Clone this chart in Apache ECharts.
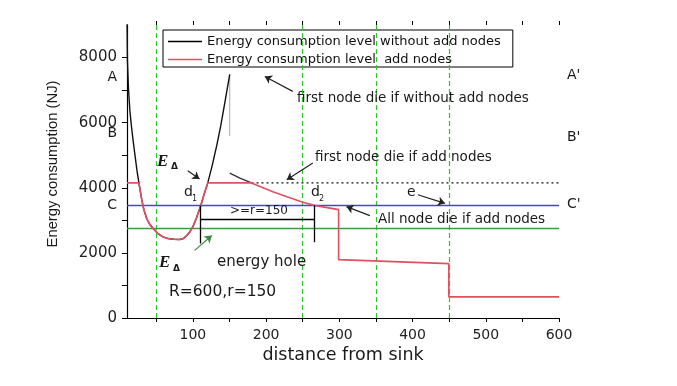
<!DOCTYPE html>
<html><head><meta charset="utf-8">
<script src="https://cdn.jsdelivr.net/npm/echarts@6/dist/echarts.min.js"></script>
<style>html,body{margin:0;padding:0;background:#fff}#c{width:677px;height:386px}</style>
</head><body><div id="c"></div>
<script>
// ---- data ----
const uDist = [10, 10.6, 12, 14, 16, 18.2, 21, 24, 27, 30, 33, 37, 41, 45.6, 52, 59, 66, 74, 82, 87, 92, 96, 100, 105, 110.7, 116, 120.3, 126, 132.6, 138, 143.5, 150.3];
const uVal  = [9300, 7900, 7050, 6350, 5900, 5480, 4980, 4470, 4050, 3650, 3330, 3050, 2880, 2750, 2600, 2490, 2440, 2420, 2412, 2440, 2540, 2650, 2800, 3080, 3450, 3850, 4150, 4650, 5300, 5900, 6600, 7480];
const addDist = [10, 26.3, 27, 30, 33, 37, 41, 45.6, 52, 59, 66, 74, 82, 87, 92, 96, 100, 105, 110.7, 116, 120.3, 180, 210, 248, 265.6, 299, 299, 449.5, 449.5, 600];
const addVal  = [4150, 4150, 4050, 3650, 3330, 3050, 2880, 2750, 2600, 2490, 2440, 2420, 2412, 2440, 2540, 2650, 2800, 3080, 3450, 3850, 4150, 4150, 3870, 3573, 3460, 3328, 1792, 1670, 650, 650];
const darkDist = [150.3, 165, 180];
const darkVal  = [4448, 4290, 4150];
const dotDist = [180, 600];
const dotVal  = [4150, 4150];
const grayDist = [150.3, 150.3];
const grayVal  = [7480, 5590];
const levelC = 3450;       // C - C'
const levelGreen = 2750;   // green level
const zoneX = [50, 250, 350, 450];
const d1 = 110.7, d2 = 265.6;
const dimTop1 = 3450, dimTop2 = 3460, dimBottom1 = 2290, dimBottom2 = 2330, dimLevel = 3040;
const arrowsBlack = [
  [[93, 4520], [109, 4270]],
  [[236.4, 6962], [198.2, 7420]],
  [[263.8, 4763], [228.2, 4244]],
  [[407.3, 3786], [444.2, 3521]],
  [[341.7, 3145], [309.8, 3420]]
];
const arrowsGreen = [[[102.5, 2076], [125.7, 2534]]];
const xLabelVals = [100, 200, 300, 400, 500, 600];
const xTickVals = [50, 100, 150, 200, 250, 300, 350, 400, 450, 500, 550, 600];
const yLabelVals = [0, 2000, 4000, 6000, 8000];
const yTickVals = [0, 1000, 2000, 3000, 4000, 5000, 6000, 7000, 8000];
const seriesNames = ['Energy consumption level without add nodes', 'Energy consumption level  add nodes'];

const zip = (a, b) => a.map((v, i) => [v, b[i]]);
const SANS = '"DejaVu Sans"';

const chart = echarts.init(document.getElementById('c'), null, {renderer: 'canvas'});

function txt(text, x, y, size, opts) {
  opts = opts || {};
  return {type: 'text', x: x, y: y, z: 50, rotation: opts.rot || 0,
    style: {text: text, fill: opts.fill || '#1a1a1a',
      font: (opts.style || '') + ' ' + size + 'px ' + (opts.family || SANS),
      align: opts.align || 'left', verticalAlign: 'middle'}};
}

const option = {
  animation: false,
  backgroundColor: '#fff',
  grid: {left: 127, right: 118, top: 25, bottom: 68},
  legend: {
    data: seriesNames, orient: 'vertical', left: 163, top: 30,
    icon: 'rect', itemWidth: 34, itemHeight: 1.5, itemGap: 5,
    padding: [5, 12, 1, 5], borderColor: '#000', borderWidth: 1, backgroundColor: '#fff',
    textStyle: {fontFamily: 'DejaVu Sans', fontSize: 13, color: '#111', lineHeight: 12}
  },
  xAxis: [{
    type: 'value', min: 10, max: 600, position: 'bottom',
    name: 'distance from sink', nameLocation: 'middle', nameGap: 25,
    nameTextStyle: {fontFamily: 'DejaVu Sans', fontSize: 17.5, color: '#1a1a1a'},
    axisLine: {show: true, lineStyle: {color: '#000', width: 1.2}},
    axisTick: {show: true, length: 4, customValues: xTickVals, lineStyle: {color: '#000'}},
    axisLabel: {customValues: xLabelVals, formatter: v => String(v), fontFamily: 'DejaVu Sans', fontSize: 14, color: '#222', margin: 10},
    splitLine: {show: false}
  }, {
    type: 'value', min: 10, max: 600, position: 'top',
    axisLine: {show: false},
    axisTick: {show: true, length: 4, customValues: xTickVals, lineStyle: {color: '#000'}},
    axisLabel: {show: false}, splitLine: {show: false}
  }],
  yAxis: [{
    type: 'value', min: 0, max: 9000,
    axisLine: {show: true, lineStyle: {color: '#000', width: 1.2}},
    axisTick: {show: true, length: 5, customValues: yTickVals, lineStyle: {color: '#000'}},
    axisLabel: {customValues: yLabelVals, formatter: v => String(v), fontFamily: 'DejaVu Sans', fontSize: 15, color: '#222', margin: 10},
    splitLine: {show: false}
  }],
  series: [
    {
      type: 'line', name: 'guides', data: [], silent: true, z: 1,
      markLine: {
        silent: true, symbol: ['none', 'none'], label: {show: false}, animation: false,
        data: zoneX.map(v => ({xAxis: v, lineStyle: {color: '#33c433', type: [5, 3], width: 1.2}}))
          .concat([
            {yAxis: levelC, lineStyle: {color: '#4646d2', type: 'solid', width: 1.3}},
            {yAxis: levelGreen, lineStyle: {color: '#3f9a3f', type: 'solid', width: 1.3}}
          ])
      }
    },
    {type: 'line', name: 'dotted', data: zip(dotDist, dotVal), symbol: 'none', z: 3,
      lineStyle: {color: '#111', width: 1.2, type: [2, 3]}},
    {type: 'line', name: 'gray', data: zip(grayDist, grayVal), symbol: 'none', z: 3,
      lineStyle: {color: '#aaaaaa', width: 1}},
    {type: 'line', name: seriesNames[0], data: zip(uDist, uVal), symbol: 'none', z: 4,
      color: '#000', lineStyle: {color: '#111', width: 1.4}},
    {type: 'line', name: 'dark', data: zip(darkDist, darkVal), symbol: 'none', z: 4,
      lineStyle: {color: '#333', width: 1.4}},
    {type: 'line', name: seriesNames[1], data: zip(addDist, addVal), symbol: 'none', z: 5,
      color: '#e0505f', lineStyle: {color: '#e0505f', width: 1.6}},
    {type: 'lines', coordinateSystem: 'cartesian2d', z: 6, symbol: 'none',
      lineStyle: {color: '#000', width: 1.3, opacity: 1, curveness: 0},
      data: [
        {coords: [[d1, dimTop1], [d1, dimBottom1]]},
        {coords: [[d2, dimTop2], [d2, dimBottom2]]},
        {coords: [[d1, dimLevel], [d2, dimLevel]]}
      ]},
    {type: 'lines', coordinateSystem: 'cartesian2d', z: 6, symbol: ['none', 'arrow'], symbolSize: 7,
      lineStyle: {color: '#222', width: 1.2, opacity: 1, curveness: 0},
      data: arrowsBlack.map(c => ({coords: c}))},
    {type: 'lines', coordinateSystem: 'cartesian2d', z: 6, symbol: ['none', 'arrow'], symbolSize: 7,
      lineStyle: {color: '#3c8a3c', width: 1.2, opacity: 1, curveness: 0},
      data: arrowsGreen.map(c => ({coords: c}))}
  ],
  graphic: [
    txt('Energy consumption (NJ)', 53, 164, 14.8, {rot: Math.PI / 2, align: 'center', family: '"Liberation Sans"'}),
    txt('first node die if without add nodes', 297, 98, 13.5),
    txt('first node die if add nodes', 315, 157, 13.5),
    txt('All node die if add nodes', 378, 219, 13.5),
    txt('e', 407, 192, 14),
    txt('d', 184, 192, 14),
    txt('1', 192, 199, 8),
    txt('d', 311, 192, 14),
    txt('2', 319, 199, 8),
    txt('>=r=150', 259, 211, 12, {align: 'center'}),
    txt('energy hole', 217, 262, 15),
    txt('R=600,r=150', 169, 292, 15.5),
    txt('E', 157, 162, 17, {style: 'italic bold', family: '"Liberation Serif"'}),
    txt('Δ', 171, 167, 9, {style: 'bold'}),
    txt('E', 159, 263, 17, {style: 'italic bold', family: '"Liberation Serif"'}),
    txt('Δ', 173, 269, 9, {style: 'bold'}),
    txt('A', 117, 77, 14, {align: 'right'}),
    txt('B', 117, 133, 14, {align: 'right'}),
    txt('C', 117, 205, 14, {align: 'right'}),
    txt("A'", 567, 75, 14),
    txt("B'", 567, 137, 14),
    txt("C'", 567, 204, 14)
  ]
};
chart.setOption(option);
</script>
</body></html>
